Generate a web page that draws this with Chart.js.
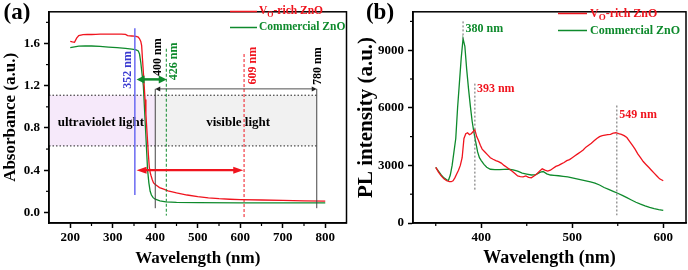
<!DOCTYPE html>
<html><head><meta charset="utf-8">
<script src="https://cdn.jsdelivr.net/npm/chart.js@4.4.1/dist/chart.umd.min.js"></script>
<style>
html,body{margin:0;padding:0;background:#fff;}
#wrap{position:relative;width:688px;height:270px;overflow:hidden;background:#fff;}
#ca{position:absolute;left:0;top:0;}
#cb{position:absolute;left:350px;top:0;}
</style></head><body>
<div id="wrap">
<canvas id="ca" width="350" height="270"></canvas>
<canvas id="cb" width="338" height="270"></canvas>
</div>
<script>
// ---------- DATA: panel (a) UV-vis absorbance ----------
const wlA_red = [200,205,210,215,220,230,240,250,260,270,280,290,300,310,320,330,335,340,345,350,355,360,363,366,368,370,372,374,376,378,380,382,384,386,388,390,393,396,400,405,410,420,430,440,450,475,500,525,550,575,600,650,700,750,800];
const absA_red = [1.62,1.615,1.612,1.65,1.675,1.683,1.685,1.685,1.687,1.688,1.688,1.688,1.688,1.688,1.688,1.686,1.675,1.672,1.671,1.67,1.668,1.66,1.645,1.62,1.58,1.45,1.33,1.2,1.07,0.93,0.8,0.67,0.54,0.43,0.38,0.35,0.31,0.28,0.265,0.25,0.235,0.22,0.205,0.195,0.185,0.165,0.15,0.138,0.13,0.125,0.122,0.118,0.114,0.11,0.107];
const wlA_green = [200,210,220,235,250,270,290,310,330,345,355,360,363,366,369,372,375,377,380,382,385,388,391,395,400,411,425,450,500,600,700,800];
const absA_green = [1.56,1.568,1.574,1.578,1.576,1.572,1.566,1.56,1.553,1.546,1.54,1.53,1.5,1.42,1.31,1.2,0.96,0.8,0.56,0.4,0.28,0.2,0.165,0.14,0.125,0.11,0.1,0.095,0.092,0.091,0.09,0.09];
const xTicksA = [200,300,400,500,600,700,800];
const xMinorA = [250,350,450,550,650,750];
const yTicksA = [0.0,0.4,0.8,1.2,1.6];
const yMinorA = [0.2,0.6,1.0,1.4,1.8];
// marked wavelengths in panel (a)
const edgeVO = 352, uvEnd = 400, edgeCom = 426, absVO = 609, visEnd = 780;

// ---------- DATA: panel (b) PL spectra ----------
const wlB_red = [350,353,356,359,362,365,367,369,371,373,375,377,379,381,383,385,387,389,391,393,395,397,399,401,404,407,410,413,416,419,422,425,428,431,434,437,440,443,446,449,452,455,458,461,464,467,470,473,476,479,482,485,488,491,494,497,500,503,506,509,512,515,518,521,524,527,530,533,536,539,542,545,548,551,554,557,560,563,566,569,572,575,578,581,584,587,590,593,596,600];
const plB_red = [2900,2650,2450,2300,2200,2150,2150,2200,2350,2550,2750,3000,3400,4400,4650,4700,4600,4650,4750,4850,4500,4300,4050,3850,3700,3550,3400,3320,3250,3200,3120,3000,2900,2800,2700,2580,2450,2420,2400,2450,2380,2350,2450,2550,2700,2820,2750,2700,2750,2850,2950,3000,3080,3150,3250,3300,3400,3500,3600,3700,3800,3950,4050,4150,4280,4400,4500,4550,4580,4600,4620,4680,4700,4650,4620,4550,4450,4250,4050,3850,3600,3400,3200,3050,2900,2750,2600,2450,2300,2200];
const wlB_green = [350,353,356,359,362,364,366,368,370,372,374,376,378,380,382,384,386,388,390,392,394,396,398,400,403,406,410,415,420,425,430,435,440,445,450,455,460,465,468,472,476,480,485,490,495,500,505,510,515,520,525,530,535,540,545,550,555,560,565,570,575,580,585,590,595,600];
const plB_green = [2900,2700,2500,2350,2250,2230,2500,3000,3700,4400,6000,7300,8600,9600,9200,8000,7000,6100,5300,4700,4200,3700,3400,3250,3050,2900,2800,2780,2780,2790,2800,2770,2700,2600,2550,2500,2520,2650,2680,2560,2500,2480,2460,2430,2400,2350,2300,2250,2200,2140,2080,1980,1850,1750,1650,1550,1440,1320,1200,1080,980,890,810,750,700,660];
const xTicksB = [400,500,600];
const xMinorB = [350,450,550];
const yTicksB = [0,3000,6000,9000];
const yMinorB = [1500,4500,7500,10500];
const peakCom = 380, peakVO1 = 393, peakVO2 = 549;

const seriesNames = ['V_O-rich ZnO','Commercial ZnO'];

// ---------- STYLE ----------
const FF = "'Liberation Serif','Times New Roman',serif";
const RED = '#f0141e', GREEN = '#0e8a2c', BLUE = '#6a6af2';

function pts(xs, ys){ return xs.map((x,i)=>({x:x, y:ys[i]})); }

function drawLabelText(ctx, label, x, y, size, color){
  ctx.fillStyle = color; ctx.textAlign='left'; ctx.textBaseline='middle';
  const i = label.indexOf('_');
  if (i < 0){ ctx.font = `bold ${size}px ${FF}`; ctx.fillText(label, x, y); return; }
  const a = label.slice(0,i), s = label.charAt(i+1), b = label.slice(i+2);
  ctx.font = `bold ${size}px ${FF}`; ctx.fillText(a, x, y); let w = ctx.measureText(a).width;
  ctx.font = `bold ${Math.round(size*0.72)}px ${FF}`; ctx.fillText(s, x+w, y+size*0.32); w += ctx.measureText(s).width;
  ctx.font = `bold ${size}px ${FF}`; ctx.fillText(b, x+w, y);
}
function vline(ctx, x, y0, y1, color, lw, dash){
  ctx.save(); ctx.strokeStyle=color; ctx.lineWidth=lw; ctx.setLineDash(dash||[]);
  ctx.beginPath(); ctx.moveTo(x,y0); ctx.lineTo(x,y1); ctx.stroke(); ctx.restore();
}
function hline(ctx, x0, x1, y, color, lw, dash){
  ctx.save(); ctx.strokeStyle=color; ctx.lineWidth=lw; ctx.setLineDash(dash||[]);
  ctx.beginPath(); ctx.moveTo(x0,y); ctx.lineTo(x1,y); ctx.stroke(); ctx.restore();
}
function dblArrow(ctx, x0, x1, y, color, lw, len, half){
  ctx.save(); ctx.strokeStyle=color; ctx.fillStyle=color; ctx.lineWidth=lw;
  ctx.beginPath(); ctx.moveTo(x0+len*0.7,y); ctx.lineTo(x1-len*0.7,y); ctx.stroke();
  ctx.beginPath(); ctx.moveTo(x0,y); ctx.lineTo(x0+len,y-half); ctx.lineTo(x0+len,y+half); ctx.closePath(); ctx.fill();
  ctx.beginPath(); ctx.moveTo(x1,y); ctx.lineTo(x1-len,y-half); ctx.lineTo(x1-len,y+half); ctx.closePath(); ctx.fill();
  ctx.restore();
}
function rotText(ctx, text, x, y, color, size){
  ctx.save(); ctx.translate(x,y); ctx.rotate(-Math.PI/2);
  ctx.font = `bold ${size}px ${FF}`; ctx.fillStyle=color; ctx.textAlign='center'; ctx.textBaseline='middle';
  ctx.fillText(text,0,0); ctx.restore();
}
function text(ctx, t, x, y, color, size, align){
  ctx.save(); ctx.font = `bold ${size}px ${FF}`; ctx.fillStyle=color; ctx.textAlign=align||'center'; ctx.textBaseline='middle';
  ctx.fillText(t,x,y); ctx.restore();
}

function frameAndMinor(xMinor, yMinor){
  return {
    id:'frame',
    afterDraw(chart){
      const {ctx, chartArea:a, scales:{x,y}} = chart;
      ctx.save(); ctx.strokeStyle='#000'; ctx.lineWidth=1.5; ctx.setLineDash([]);
      ctx.strokeRect(a.left, a.top, a.right-a.left, a.bottom-a.top);
      ctx.lineWidth=1.2;
      xMinor.forEach(v=>{ const p=x.getPixelForValue(v); ctx.beginPath(); ctx.moveTo(p,a.bottom); ctx.lineTo(p,a.bottom+3); ctx.stroke(); });
      yMinor.forEach(v=>{ const p=y.getPixelForValue(v); ctx.beginPath(); ctx.moveTo(a.left,p); ctx.lineTo(a.left-3,p); ctx.stroke(); });
      ctx.restore();
    }
  };
}

function legendPlugin(lineX0, lineX1, textX, ys, size){
  return {
    id:'customLegend',
    afterDraw(chart){
      const ctx = chart.ctx;
      chart.data.datasets.forEach((ds,i)=>{
        hline(ctx, lineX0, lineX1, ys[i], ds.borderColor, 1.5);
        drawLabelText(ctx, ds.label, textX, ys[i], size, ds.borderColor);
      });
    }
  };
}

function baseOptions(o){
  const tickFont = {family:FF, size:o.tickSize, weight:'bold'};
  return {
    responsive:false, animation:false, devicePixelRatio:1,
    layout:{padding:o.padding},
    plugins:{legend:{display:false}, tooltip:{enabled:false}},
    elements:{point:{radius:0}, line:{borderWidth:1.3, tension:0}},
    scales:{
      x:{
        type:'linear', min:o.xmin, max:o.xmax,
        afterBuildTicks: ax => { ax.ticks = o.xTicks.map(v=>({value:v})); },
        afterFit: ax => { ax.height = o.xAxisH; },
        ticks:{callback:v=>String(v), font:tickFont, color:'#000', padding:2, maxRotation:0, autoSkip:false},
        grid:{drawOnChartArea:false, drawTicks:true, tickLength:5, tickWidth:1.5, tickColor:'#000'},
        border:{display:true, color:'#000', width:1.5},
        title:{display:true, text:'Wavelength (nm)', color:'#000', font:{family:FF, size:o.xTitleSize, weight:'bold'}, padding:{top:0, bottom:o.xTitlePad}}
      },
      y:{
        type:'linear', min:o.ymin, max:o.ymax,
        afterBuildTicks: ax => { ax.ticks = o.yTicks.map(v=>({value:v})); },
        afterFit: ax => { ax.width = o.yAxisW; },
        ticks:{callback:o.yFmt, font:tickFont, color:'#000', padding:4, autoSkip:false},
        grid:{drawOnChartArea:false, drawTicks:true, tickLength:5, tickWidth:1.5, tickColor:'#000'},
        border:{display:true, color:'#000', width:1.5},
        title:{display:true, text:o.yTitle, color:'#000', font:{family:FF, size:o.yTitleSize, weight:'bold'}, padding:{top:o.yTitlePad, bottom:0}}
      }
    }
  };
}

// ---------- PANEL (a) ----------
const annotA = {
  id:'annotA',
  beforeDatasetsDraw(chart){
    const {ctx, scales:{x,y}} = chart;
    const X = v=>x.getPixelForValue(v), Y = v=>y.getPixelForValue(v);
    const bandTop = 1.11, bandBot = 0.63;
    ctx.save();
    ctx.fillStyle = '#f6e9fa';
    ctx.fillRect(X(150), Y(bandTop), X(uvEnd)-X(150), Y(bandBot)-Y(bandTop));
    ctx.fillStyle = '#f1f1f1';
    ctx.fillRect(X(uvEnd), Y(bandTop), X(visEnd)-X(uvEnd), Y(bandBot)-Y(bandTop));
    ctx.restore();
    hline(ctx, X(150), X(visEnd), Y(bandTop), '#222', 1, [1.5,2]);
    hline(ctx, X(150), X(visEnd), Y(bandBot), '#222', 1, [1.5,2]);
    text(ctx, 'ultraviolet light', X(272), Y(0.855), '#000', 13);
    text(ctx, 'visible light', X(595), Y(0.855), '#000', 13);
  },
  afterDatasetsDraw(chart){
    const {ctx, scales:{x,y}} = chart;
    const X = v=>x.getPixelForValue(v), Y = v=>y.getPixelForValue(v);
    vline(ctx, X(edgeVO), Y(1.745), Y(0.165), BLUE, 1.5);
    vline(ctx, X(uvEnd), Y(1.17), Y(0.04), '#444', 1);
    vline(ctx, X(visEnd), Y(1.17), Y(0.04), '#444', 1);
    vline(ctx, X(edgeCom), Y(1.55), Y(-0.03), GREEN, 1, [3,2]);
    vline(ctx, X(absVO), Y(1.5), Y(-0.05), RED, 1, [3,2]);
    dblArrow(ctx, X(uvEnd), X(visEnd), Y(1.17), '#222', 0.8, 5, 2.5);
    dblArrow(ctx, X(356), X(427), Y(1.26), GREEN, 2.5, 8, 4);
    dblArrow(ctx, X(356), X(607), Y(0.40), RED, 2.2, 10, 3.5);
    rotText(ctx, edgeVO+' nm', X(edgeVO)-6.5, Y(1.35), '#3a3ad0', 12);
    rotText(ctx, uvEnd+' nm', X(uvEnd)+2.5, Y(1.47), '#000', 12);
    rotText(ctx, edgeCom+' nm', X(edgeCom)+7.5, Y(1.43), GREEN, 12);
    rotText(ctx, absVO+' nm', X(absVO)+8.5, Y(1.39), RED, 12);
    rotText(ctx, visEnd+' nm', X(visEnd)+1.5, Y(1.385), '#000', 12);
  },
  afterDraw(chart){
    text(chart.ctx, '(a)', 17, 13, '#000', 23);
  }
};

new Chart(document.getElementById('ca'), {
  type:'line',
  data:{datasets:[
    {label:seriesNames[0], data:pts(wlA_red, absA_red), borderColor:RED},
    {label:seriesNames[1], data:pts(wlA_green, absA_green), borderColor:GREEN}
  ]},
  options: baseOptions({
    padding:{left:0, top:2, right:3.5, bottom:0},
    xmin:150, xmax:850, ymin:-0.1, ymax:1.9,
    xTicks:xTicksA, yTicks:yTicksA, yFmt:v=>Number(v).toFixed(1),
    tickSize:13, xAxisH:47, yAxisW:49,
    xTitleSize:17, xTitlePad:1, yTitle:'Absorbance (a.u.)', yTitleSize:17, yTitlePad:0
  }),
  plugins:[annotA, frameAndMinor(xMinorA, yMinorA), legendPlugin(230, 257, 259, [11.5, 27.5], 11.5)]
});

// ---------- PANEL (b) ----------
const annotB = {
  id:'annotB',
  afterDatasetsDraw(chart){
    const {ctx, scales:{x,y}} = chart;
    const X = v=>x.getPixelForValue(v), Y = v=>y.getPixelForValue(v);
    vline(ctx, X(peakCom), Y(10500), Y(9600), '#666', 1, [2,2]);
    vline(ctx, X(peakVO1), Y(7260), Y(1640), '#666', 1, [2,2]);
    vline(ctx, X(peakVO2), Y(6120), Y(400), '#666', 1, [2,2]);
    text(ctx, peakCom+' nm', X(peakCom)+2.5, Y(10100), GREEN, 12, 'left');
    text(ctx, peakVO1+' nm', X(peakVO1)+2, Y(6965), RED, 12, 'left');
    text(ctx, peakVO2+' nm', X(peakVO2)+2.5, Y(5620), RED, 12, 'left');
  },
  afterDraw(chart){
    text(chart.ctx, '(b)', 30, 13, '#000', 23);
  }
};

new Chart(document.getElementById('cb'), {
  type:'line',
  data:{datasets:[
    {label:seriesNames[0], data:pts(wlB_red, plB_red), borderColor:RED},
    {label:seriesNames[1], data:pts(wlB_green, plB_green), borderColor:GREEN}
  ]},
  options: baseOptions({
    padding:{left:0, top:2, right:2, bottom:0},
    xmin:325, xmax:625, ymin:0, ymax:11000,
    xTicks:xTicksB, yTicks:yTicksB, yFmt:v=>String(v),
    tickSize:13, xAxisH:47, yAxisW:63,
    xTitleSize:18, xTitlePad:1, yTitle:'PL intensity (a.u.)', yTitleSize:21, yTitlePad:4
  }),
  plugins:[annotB, frameAndMinor(xMinorB, yMinorB), legendPlugin(208, 237, 240, [13.5, 30.5], 12)]
});
</script>
</body></html>
